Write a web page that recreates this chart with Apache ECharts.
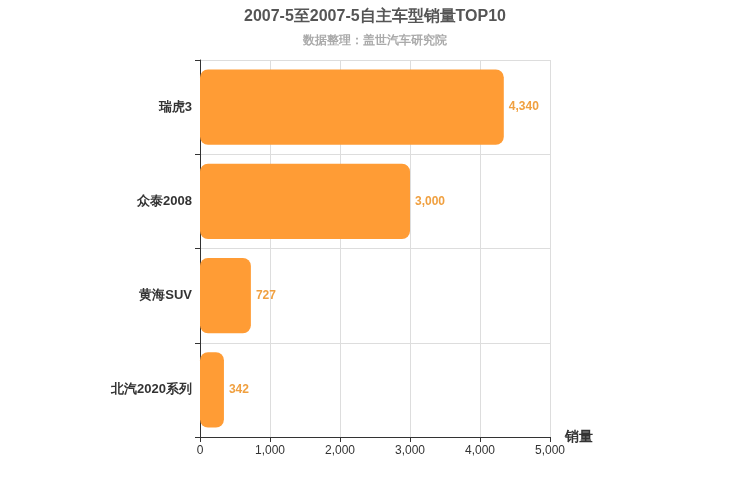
<!DOCTYPE html>
<html><head><meta charset="utf-8">
<script src="https://cdn.jsdelivr.net/npm/echarts@6/dist/echarts.min.js"></script>
</head><body style="margin:0">
<div id="c" style="width:750px;height:500px"></div>
<script>
const categories = ['瑞虎3','众泰2008','黄海SUV','北汽2020系列'];
const values = [4340,3000,727,342];
const chart = echarts.init(document.getElementById('c'));
chart.setOption({
  title:{text:'2007-5至2007-5自主车型销量TOP10',subtext:'数据整理：盖世汽车研究院',left:'center',top:4,
    textStyle:{fontSize:16,fontWeight:'bold',color:'#555'},subtextStyle:{fontSize:12,color:'#aaa',fontWeight:'bold'},itemGap:10},
  grid:{left:200,right:200,top:60,bottom:63},
  xAxis:{type:'value',min:0,max:5000,interval:1000,name:'销量',nameLocation:'end',
    nameTextStyle:{fontSize:14,fontWeight:'bold',color:'#333',padding:[30,0,0,0]},
    axisLine:{show:true,lineStyle:{color:'#333'}},axisTick:{show:true},
    axisLabel:{color:'#333'},splitLine:{lineStyle:{color:'#ddd'}}},
  yAxis:{type:'category',data:categories,inverse:true,
    axisLine:{lineStyle:{color:'#333'}},axisTick:{show:true},
    axisLabel:{fontSize:13,fontWeight:'bold',color:'#333'},
    splitLine:{show:true,lineStyle:{color:'#ddd'}}},
  series:[{type:'bar',data:values,barWidth:'80%',
    itemStyle:{color:'#ff9c35',borderRadius:8},
    label:{show:true,position:'right',color:'#f0a040',fontWeight:'bold',fontSize:12,
      formatter:p=>p.value.toLocaleString('en-US')}}]
});
</script></body></html>
